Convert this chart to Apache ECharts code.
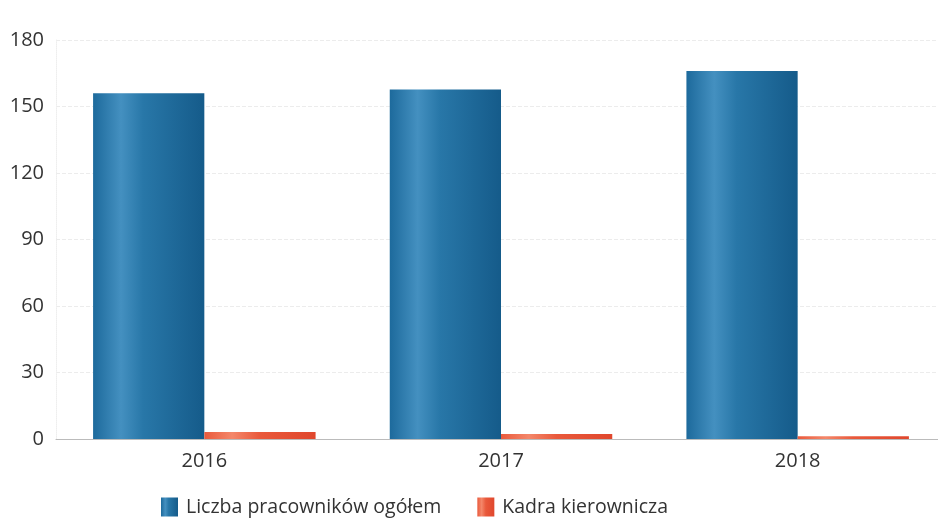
<!DOCTYPE html>
<html><head><meta charset="utf-8">
<script src="https://cdn.jsdelivr.net/npm/echarts@6/dist/echarts.min.js"></script>
<style>html,body{margin:0;padding:0;background:#fff;overflow:hidden}#c{width:950px;height:520px}</style>
</head><body><div id="c"></div>
<script>
const categories = ['2016', '2017', '2018'];
const seriesNames = ['Liczba pracowników ogółem', 'Kadra kierownicza'];
const totalEmployees = [156, 157.7, 166];
const managers = [3.2, 2.3, 1.2];
const yTicks = [0, 30, 60, 90, 120, 150, 180];

const blueGrad = new echarts.graphic.LinearGradient(0, 0, 1, 0, [
  {offset: 0, color: '#1d6a9c'},
  {offset: 0.25, color: '#4490c0'},
  {offset: 0.45, color: '#2877a8'},
  {offset: 1, color: '#155b8a'}
]);
const redGrad = new echarts.graphic.LinearGradient(0, 0, 1, 0, [
  {offset: 0, color: '#ea5a3c'},
  {offset: 0.25, color: '#f4876a'},
  {offset: 0.5, color: '#e9593b'},
  {offset: 1, color: '#e0472d'}
]);

const chart = echarts.init(document.getElementById('c'));
chart.setOption({
  animation: false,
  textStyle: {fontFamily: 'Open Sans'},
  grid: {left: 56, right: 4, top: 40, bottom: 81},
  legend: {
    data: seriesNames,
    left: 156, top: 492,
    itemWidth: 17, itemHeight: 19, itemGap: 36,
    icon: 'rect',
    textStyle: {fontSize: 19.5, color: '#333', fontFamily: 'Open Sans', padding: [0, 0, 0, 3]}
  },
  xAxis: {
    type: 'category', data: categories,
    axisLine: {lineStyle: {color: '#bbb', width: 1}},
    axisTick: {show: false},
    axisLabel: {fontSize: 20, color: '#333', margin: 12}
  },
  yAxis: {
    type: 'value', min: yTicks[0], max: yTicks[yTicks.length - 1], interval: 30,
    axisLine: {show: true, lineStyle: {color: '#eee', type: 'dotted'}},
    axisTick: {show: false},
    splitLine: {lineStyle: {color: '#ececec', type: 'dashed'}},
    axisLabel: {fontSize: 20, color: '#333', margin: 12}
  },
  series: [
    {name: seriesNames[0], type: 'bar', data: totalEmployees, barGap: '0%', barCategoryGap: '25%',
     itemStyle: {color: blueGrad}},
    {name: seriesNames[1], type: 'bar', data: managers,
     itemStyle: {color: redGrad}}
  ]
});
</script></body></html>
